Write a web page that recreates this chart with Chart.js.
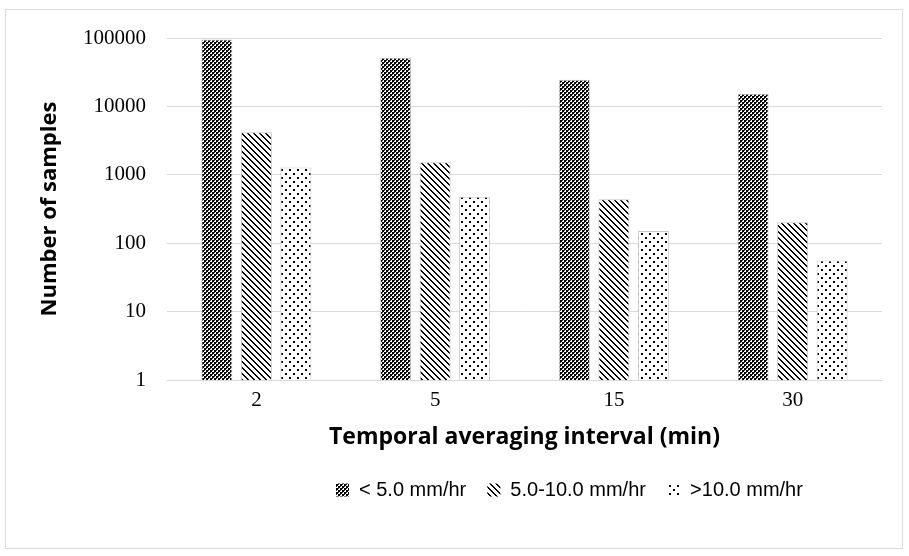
<!DOCTYPE html>
<html>
<head>
<meta charset="utf-8">
<script src="https://cdn.jsdelivr.net/npm/chart.js@4.4.0/dist/chart.umd.min.js"></script>
<style>
  html, body { margin: 0; padding: 0; background: #fff; }
  #wrap { position: relative; width: 909px; height: 556px; }
  #frame { position: absolute; left: 5px; top: 9px; width: 896px; height: 538px; border: 1px solid #d9d9d9; pointer-events: none; }
  canvas { position: absolute; left: 0; top: 0; }
</style>
</head>
<body>
<div id="wrap">
  <canvas id="chart" width="909" height="556"></canvas>
  <div id="frame"></div>
</div>
<script>
const categories = ['2', '5', '15', '30'];
const seriesLabels = ['< 5.0 mm/hr', '5.0-10.0 mm/hr', '>10.0 mm/hr'];
const lowRate = [95000, 51500, 24600, 15300];
const midRate = [4200, 1520, 440, 203];
const highRate = [1280, 476, 151, 56];
const tickValues = [1, 10, 100, 1000, 10000, 100000];

function makePattern(kind) {
  const c = document.createElement('canvas');
  const ctx = c.getContext('2d');
  if (kind === 'check') {
    c.width = 4; c.height = 4;
    ctx.fillStyle = '#fff';
    ctx.fillRect(0, 0, 4, 4);
    ctx.fillStyle = '#000';
    ctx.fillRect(0, 0, 2, 2);
    ctx.fillRect(2, 2, 2, 2);
    ctx.fillStyle = '#333';
    ctx.fillRect(2, 0, 1, 1);
    ctx.fillRect(0, 2, 1, 1);
  } else if (kind === 'diag') {
    c.width = 6; c.height = 6;
    ctx.fillStyle = '#fff';
    ctx.fillRect(0, 0, 6, 6);
    ctx.fillStyle = '#000';
    for (let i = 0; i < 6; i++) {
      ctx.fillRect(i, i, 2, 1);
    }
    ctx.fillRect(0, 5, 1, 1);
  } else {
    c.width = 8; c.height = 8;
    ctx.fillStyle = '#fff';
    ctx.fillRect(0, 0, 8, 8);
    ctx.fillStyle = '#000';
    ctx.fillRect(1, 1, 2, 2);
    ctx.fillRect(5, 5, 2, 2);
  }
  return ctx.createPattern(c, 'repeat');
}

const patterns = [makePattern('check'), makePattern('diag'), makePattern('dots')];
const values = [lowRate, midRate, highRate];

// legend sits right of centre in the original
const legendShift = {
  id: 'legendShift',
  afterLayout(chart) {
    chart.legend.left += 134;
    chart.legend.right += 134;
  }
};

new Chart(document.getElementById('chart'), {
  type: 'bar',
  data: {
    labels: categories,
    datasets: seriesLabels.map((label, i) => ({
      label,
      data: values[i],
      backgroundColor: patterns[i],
      borderColor: '#c8c8c8',
      borderWidth: 1,
      categoryPercentage: 0.663,
      barPercentage: 0.785
    }))
  },
  options: {
    responsive: false,
    animation: false,
    layout: { padding: { left: 0, right: 27, top: 38, bottom: 46 } },
    plugins: {
      tooltip: { enabled: false },
      legend: {
        position: 'bottom',
        labels: {
          color: '#000',
          font: { family: 'Liberation Sans', size: 20 },
          boxWidth: 13,
          boxHeight: 13,
          padding: 10,
          useBorderRadius: false,
          generateLabels(chart) {
            return chart.data.datasets.map((ds, i) => ({
              text: ds.label + '  ',
              fillStyle: patterns[i],
              strokeStyle: 'rgba(0,0,0,0)',
              lineWidth: 0,
              datasetIndex: i,
              hidden: false
            }));
          }
        }
      }
    },
    scales: {
      x: {
        grid: { display: false, drawTicks: false },
        border: { color: '#d9d9d9', width: 1 },
        ticks: { color: '#000', padding: 8, font: { family: 'Liberation Serif', size: 21 } },
        title: {
          display: true,
          text: 'Temporal averaging interval (min)',
          color: '#000',
          font: { family: 'Open Sans', size: 23, weight: 'bold' },
          padding: { top: 0, bottom: 19 }
        },
        afterFit(scale) { scale.height = 90; }
      },
      y: {
        type: 'logarithmic',
        min: 1,
        max: 100000,
        grid: { color: '#d9d9d9', drawTicks: false },
        border: { display: false },
        afterBuildTicks(scale) { scale.ticks = tickValues.map(v => ({ value: v })); },
        ticks: {
          color: '#000',
          padding: 21,
          font: { family: 'Liberation Serif', size: 21 },
          callback: v => String(v)
        },
        title: {
          display: true,
          text: 'Number of samples',
          color: '#000',
          font: { family: 'Open Sans', size: 22, weight: 'bold' },
          padding: { top: 37, bottom: 0 }
        },
        afterFit(scale) { scale.width = 167; }
      }
    }
  },
  plugins: [legendShift]
});
</script>
</body>
</html>
